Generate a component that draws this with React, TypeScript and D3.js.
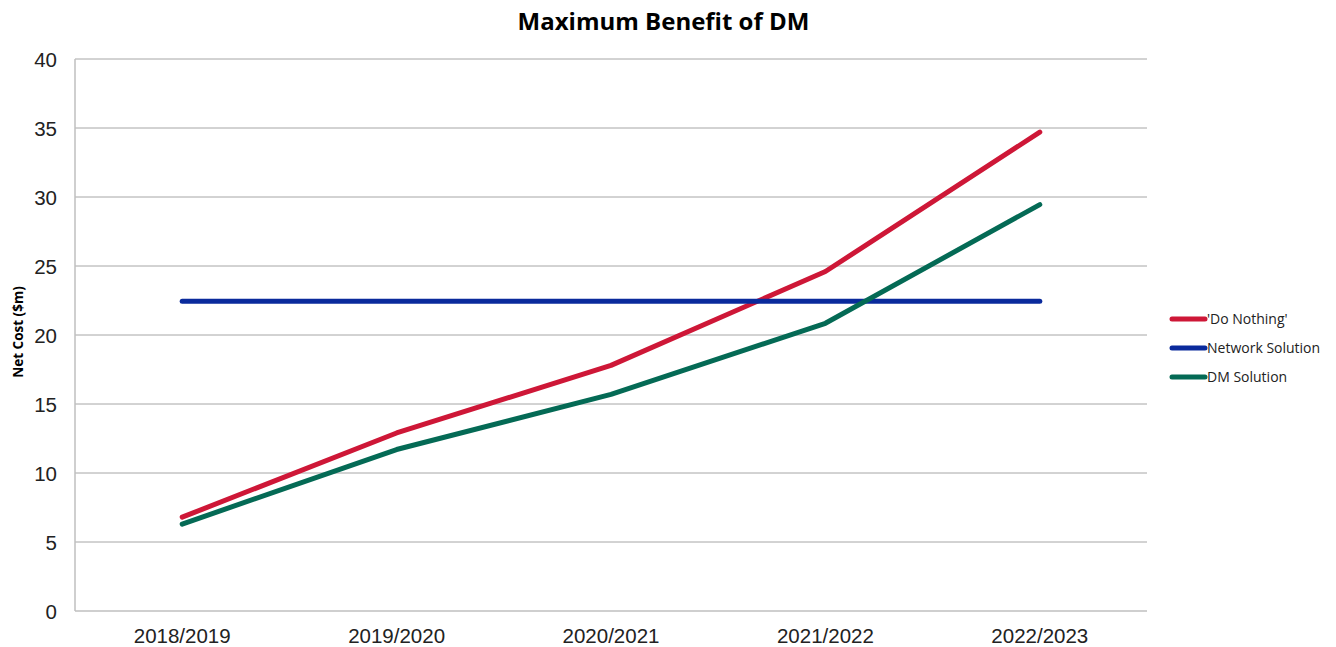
import React from "react";
import * as d3 from "d3";

const categories = ["2018/2019", "2019/2020", "2020/2021", "2021/2022", "2022/2023"];
const doNothing = [6.8, 12.9, 17.8, 24.6, 34.7];
const network = [22.45, 22.45, 22.45, 22.45, 22.45];
const dmSolution = [6.3, 11.7, 15.7, 20.85, 29.45];
const yTicks = [0, 5, 10, 15, 20, 25, 30, 35, 40];

const series = [
  { name: "'Do Nothing'", values: doNothing, color: "#CE1737" },
  { name: "Network Solution", values: network, color: "#0A2A9C" },
  { name: "DM Solution", values: dmSolution, color: "#046A55" },
];

export default function App() {
  const W = 1336, H = 647;
  const left = 75, right = 1147, top = 59, bottom = 611;
  const x = d3.scaleBand<string>().domain(categories).range([left, right]);
  const y = d3.scaleLinear().domain([0, 40]).range([bottom, top]);
  const line = d3
    .line<number>()
    .x((_, i) => (x(categories[i]) as number) + x.bandwidth() / 2)
    .y((d) => y(d));

  return (
    <svg width={W} height={H} style={{ position: "absolute", left: 0, top: 0 }}>
      <rect width={W} height={H} fill="#fff" />
      <text x={663.5} y={30} textAnchor="middle" fontFamily="'Open Sans', 'Noto Sans', sans-serif" fontWeight="bold" fontSize={24}>
        Maximum Benefit of DM
      </text>
      {yTicks.map((t) => (
        <g key={t}>
          {t > 0 && <line x1={left} x2={right} y1={y(t)} y2={y(t)} stroke="#A6A6A6" strokeWidth={1} />}
          <text x={57} y={y(t) + 7.5} textAnchor="end" fontFamily="'Liberation Sans', Arial, sans-serif" fontSize={20.5} fill="#222">
            {t}
          </text>
        </g>
      ))}
      <line x1={left} x2={left} y1={top} y2={bottom} stroke="#BFBFBF" strokeWidth={1.5} />
      <line x1={left} x2={right} y1={bottom} y2={bottom} stroke="#BFBFBF" strokeWidth={1.5} />
      {categories.map((c) => (
        <text key={c} x={(x(c) as number) + x.bandwidth() / 2} y={643} textAnchor="middle" fontFamily="'Liberation Sans', Arial, sans-serif" fontSize={20.5} fill="#222">
          {c}
        </text>
      ))}
      <text transform={`translate(23,332) rotate(-90)`} textAnchor="middle" fontFamily="'Open Sans', 'Noto Sans', sans-serif" fontWeight="bold" fontSize={13.5}>
        Net Cost ($m)
      </text>
      {series.map((s) => (
        <path key={s.name} d={line(s.values) || ""} fill="none" stroke={s.color} strokeWidth={5} strokeLinecap="round" strokeLinejoin="round" />
      ))}
      {series.map((s, i) => (
        <g key={s.name} transform={`translate(0,${319 + i * 29})`}>
          <line x1={1172} x2={1205} y1={0} y2={0} stroke={s.color} strokeWidth={5} strokeLinecap="round" />
          <text x={1207} y={5} fontFamily="'Open Sans', 'Noto Sans', sans-serif" fontSize={14} fill="#222">
            {s.name}
          </text>
        </g>
      ))}
    </svg>
  );
}
